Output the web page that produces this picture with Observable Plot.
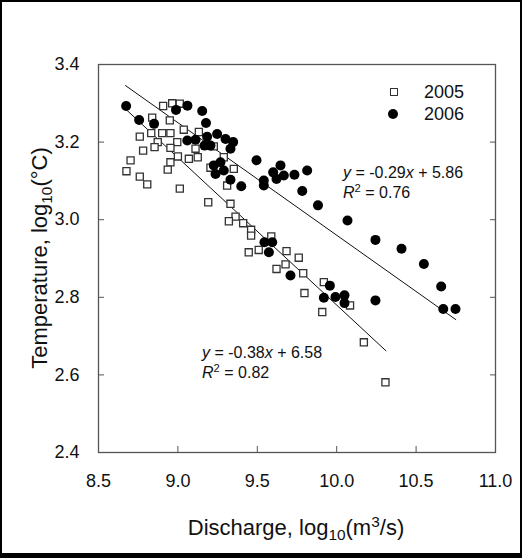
<!DOCTYPE html>
<html><head><meta charset="utf-8">
<script src="https://cdn.jsdelivr.net/npm/d3@7"></script>
<script src="https://cdn.jsdelivr.net/npm/@observablehq/plot@0.6"></script>
<style>
body{margin:0;background:#fff;font-family:"Liberation Sans",Arial,sans-serif;}
#wrap{position:relative;width:526px;height:558px;overflow:hidden;background:#fff;}
#chart{position:absolute;left:0;top:0;}
.ov{position:absolute;white-space:nowrap;color:#111;}
.eq{font-size:16px;line-height:20px;}
.eq i{font-style:italic;}
sup,sub{font-size:70%;line-height:0;}
</style></head><body>
<div id="wrap">
<div id="chart"></div>
<div class="ov" style="left:0;top:0;width:522px;height:558px;box-sizing:border-box;border:2px solid #000;border-bottom:5px solid #000;"></div>
<div class="ov" style="left:390px;top:88px;width:8px;height:8px;box-sizing:border-box;border:1.3px solid #333;background:#fff;"></div>
<div class="ov" style="left:424px;top:81px;font-size:18px;line-height:22px;">2005</div>
<div class="ov" style="left:388px;top:109px;width:10px;height:10px;border-radius:50%;background:#000;"></div>
<div class="ov" style="left:424px;top:103px;font-size:18px;line-height:22px;">2006</div>
<div class="ov eq" style="left:343px;top:163px;"><i>y</i> = -0.29<i>x</i> + 5.86<br><i>R</i><sup>2</sup> = 0.76</div>
<div class="ov eq" style="left:202px;top:343px;"><i>y</i> = -0.38<i>x</i> + 6.58<br><i>R</i><sup>2</sup> = 0.82</div>
<div class="ov" style="left:296px;top:528px;transform:translate(-50%,-50%);font-size:22px;">Discharge, log<sub>10</sub>(m<sup>3</sup>/s)</div>
<div class="ov" style="left:40px;top:258px;transform:translate(-50%,-50%) rotate(-90deg);font-size:22px;">Temperature, log<sub>10</sub>(°C)</div>
</div>
<script>
// 2005 (open squares)
const x2005 = [8.907,8.964,9.012,8.838,8.949,8.760,8.832,8.901,8.953,8.873,9.037,9.132,8.996,8.953,8.781,8.853,9.111,8.702,8.953,9.000,8.936,9.069,9.125,8.676,8.760,8.807,9.012,9.191,9.205,9.226,9.289,9.352,9.310,9.331,9.363,9.321,9.411,9.461,9.461,9.588,9.446,9.509,9.684,9.761,9.678,9.621,9.789,9.797,9.919,9.909,10.084,10.171,10.307];
const y2005 = [3.293,3.300,3.299,3.263,3.256,3.214,3.223,3.223,3.223,3.200,3.232,3.226,3.200,3.185,3.178,3.187,3.183,3.153,3.148,3.163,3.129,3.157,3.161,3.125,3.111,3.091,3.080,3.045,3.134,3.189,3.161,3.131,3.088,3.041,3.008,2.996,2.991,2.974,2.959,2.957,2.916,2.922,2.919,2.902,2.885,2.873,2.862,2.811,2.839,2.762,2.779,2.684,2.581];
// 2006 (filled circles)
const x2006 = [8.674,8.756,8.850,8.988,9.060,9.153,9.177,9.247,9.300,9.348,9.331,9.184,9.059,9.111,9.168,9.205,9.226,9.268,9.289,9.237,9.331,9.399,9.495,9.541,9.541,9.600,9.646,9.621,9.667,9.734,9.814,9.783,9.882,10.068,10.244,10.408,10.549,10.658,10.671,10.748,9.545,9.594,9.573,9.709,9.957,9.919,9.992,10.049,10.049,10.244];
const y2006 = [3.293,3.257,3.247,3.283,3.294,3.280,3.249,3.221,3.208,3.200,3.183,3.214,3.204,3.206,3.191,3.191,3.140,3.148,3.127,3.118,3.103,3.086,3.153,3.101,3.088,3.122,3.140,3.105,3.114,3.116,3.127,3.074,3.037,2.998,2.948,2.925,2.886,2.828,2.770,2.770,2.942,2.942,2.916,2.856,2.830,2.799,2.801,2.805,2.785,2.792];
const xTicks = [8.5, 9.0, 9.5, 10.0, 10.5, 11.0];
const yTicks = [2.4, 2.6, 2.8, 3.0, 3.2, 3.4];
// fitted lines: y = slope*x + intercept, drawn over the data range of each year
const fitSlope = [-0.38, -0.29];
const fitIntercept = [6.58, 5.86];
const fitXmin = [8.67, 8.67];
const fitXmax = [10.31, 10.75];

const d2005 = x2005.map((x, i) => ({x, y: y2005[i]}));
const d2006 = x2006.map((x, i) => ({x, y: y2006[i]}));
const fit = [];
fitSlope.forEach((s, i) => {
  [fitXmin[i], fitXmax[i]].forEach(xv => fit.push({series: i, x: xv, y: s * xv + fitIntercept[i]}));
});
const fmt = d3.format(".1f");
const chart = Plot.plot({
  width: 526, height: 558,
  marginLeft: 98, marginRight: 31, marginTop: 64, marginBottom: 106,
  x: {domain: [8.5, 11.0]},
  y: {domain: [2.4, 3.4]},
  style: {fontFamily: "'Liberation Sans', Arial, sans-serif", fontSize: "18px", color: "#111", background: "transparent"},
  marks: [
    Plot.frame({stroke: "#555", strokeWidth: 1.3}),
    Plot.axisX({ticks: xTicks, tickFormat: fmt, tickSize: -6, tickPadding: 28, label: null, stroke: "#555"}),
    Plot.axisY({ticks: yTicks, tickFormat: fmt, tickSize: -6, tickPadding: 25, label: null, stroke: "#555"}),
    Plot.axisY({anchor: "right", ticks: yTicks, tickFormat: () => "", tickSize: -6, label: null, stroke: "#555"}),
    Plot.line(fit, {x: "x", y: "y", z: "series", stroke: "#111", strokeWidth: 1}),
    Plot.dot(d2005, {x: "x", y: "y", symbol: "square", r: 4, stroke: "#333", strokeWidth: 1.3, fill: "white"}),
    Plot.dot(d2006, {x: "x", y: "y", r: 5, fill: "#000", stroke: "none"})
  ]
});
document.getElementById("chart").appendChild(chart);
</script>
</body></html>
